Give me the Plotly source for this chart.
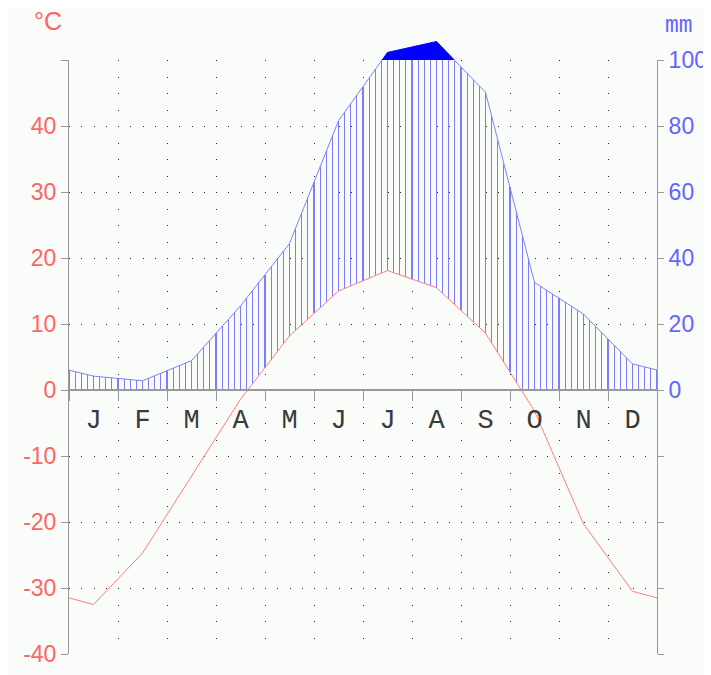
import numpy as np
import plotly.graph_objects as go

# ---- data (Walter-Lieth climate diagram) ----
months = ["J", "F", "M", "A", "M", "J", "J", "A", "S", "O", "N", "D"]
temp_c = [-32.5, -24.7, -13.0, -1.4, 8.2, 15.0, 18.1, 15.5, 8.6, -3.2, -20.3, -30.5]
precip_mm = [4.2, 2.8, 8.9, 25.5, 44.4, 81.6, 123.0, 156.0, 90.2, 32.6, 23.0, 7.9]
temp_ticks = list(range(-40, 51, 10))
temp_ticktext = [str(v) if v < 50 else "" for v in temp_ticks]
precip_ticks = list(range(-80, 101, 20))
precip_ticktext = [str(v) if v >= 0 else "" for v in precip_ticks]

# ---- styling / layout constants ----
RED = "#ff6464"
BLUE = "#6464ff"
AXIS = "#999999"
DOT = "#222222"
BG = "#fafcfa"
LABEL_Y = -4.8          # vertical position of month letters (deg C units)
OFF = 8                 # page body margin of the browser
W, H = 711 - OFF, 675 - OFF
PLOT_L, PLOT_R, PLOT_T, PLOT_B = 69, 657, 60, 654   # target pixels in the window
ML = PLOT_L - OFF
MR = W - (PLOT_R - OFF)
MB = H - (PLOT_B - OFF)
MT = 12
T_MIN, T_MAX = -40, 50


def to_display(mm):
    """Walter-Lieth scale: 20 mm = 10 C up to 100 mm, above that 200 mm = 10 C."""
    return mm / 2.0 if mm <= 100 else 50.0 + (mm - 100.0) / 20.0


n = len(months)
x_c = np.arange(n) + 0.5
xs = np.concatenate([[0.0], x_c, [float(n)]])
t_edge = (temp_c[0] + temp_c[-1]) / 2.0
p_disp = [to_display(v) for v in precip_mm]
p_edge = (p_disp[0] + p_disp[-1]) / 2.0
t_line = np.array([t_edge] + temp_c + [t_edge])
p_line = np.array([p_edge] + p_disp + [p_edge])

# hatch: 8 vertical strokes per month between max(T,0) and min(P,50)
hx = np.arange(0, n * 8 + 1) / 8.0
hb = np.maximum(np.interp(hx, xs, t_line), 0.0)
ht = np.minimum(np.interp(hx, xs, p_line), 50.0)
keep = ht > hb
hatch_x = hx[keep]
hatch_base = hb[keep]
hatch_len = (ht - hb)[keep]

# dark region above 100 mm (clip the precipitation polyline at 50)
poly_x, poly_y = [], []
for i in range(len(xs) - 1):
    x0, y0, x1, y1 = xs[i], p_line[i], xs[i + 1], p_line[i + 1]
    if y0 >= 50:
        poly_x.append(x0)
        poly_y.append(y0)
    if (y0 - 50) * (y1 - 50) < 0:
        xc = x0 + (50 - y0) * (x1 - x0) / (y1 - y0)
        poly_x.append(xc)
        poly_y.append(50.0)
if p_line[-1] >= 50:
    poly_x.append(xs[-1])
    poly_y.append(p_line[-1])

# geometry: main axes occupy [0, d] of the paper height, the extra strip
# above them (used only by the >100 mm area) belongs to an invisible axis.
paper_w = W - ML - MR
paper_h = H - MT - MB
d = (PLOT_B - PLOT_T) / paper_h
y3_top = T_MIN + (T_MAX - T_MIN) / d
zero_pos = d * (0 - T_MIN) / (T_MAX - T_MIN)


def px_to_paper(px, py):
    return (px - PLOT_L) / paper_w, (PLOT_B - py) / paper_h


fig = go.Figure()
# thin (1 px, pixel-snapped) bars make the vertical hatching
fig.add_trace(go.Bar(x=hatch_x, y=hatch_len, base=hatch_base, width=0.002,
                     marker=dict(color="#7c7cff", line=dict(width=0)),
                     hoverinfo="skip", showlegend=False))
fig.add_trace(go.Scatter(x=xs, y=p_line, mode="lines",
                         line=dict(color="#8080ff", width=1), showlegend=False))
fig.add_trace(go.Scatter(x=xs, y=t_line, mode="lines",
                         line=dict(color="#ff8080", width=1), showlegend=False))
fig.add_trace(go.Scatter(x=x_c, y=[LABEL_Y] * n, mode="text", text=months,
                         textfont=dict(family="Liberation Mono", size=27, color="#3a3a3a"),
                         xaxis="x2", yaxis="y", hoverinfo="skip", showlegend=False))
fig.add_trace(go.Scatter(x=[None], y=[None], yaxis="y2", showlegend=False, hoverinfo="skip"))
if poly_x:
    fig.add_trace(go.Scatter(x=poly_x, y=poly_y, mode="lines", fill="toself",
                             fillcolor="#0000ff", line=dict(color="#0000ff", width=1),
                             xaxis="x3", yaxis="y3",
                             hoverinfo="skip", showlegend=False))

cx, cy = px_to_paper(47.5, 21)
mx, my = px_to_paper(679, 26)

fig.update_layout(
    width=W, height=H,
    margin=dict(l=ML, r=MR, t=MT, b=MB, pad=0),
    paper_bgcolor=BG, plot_bgcolor="rgba(0,0,0,0)",
    bargap=0, bargroupgap=0,
    xaxis=dict(range=[0, n], domain=[0, 1], tickvals=list(range(n + 1)),
               showticklabels=False, ticks="", showgrid=True, gridcolor=DOT,
               gridwidth=1, griddash="1px,15.5px", zeroline=False,
               showline=False, automargin=False),
    xaxis2=dict(overlaying="x", anchor="free", position=zero_pos, range=[0, n],
                tickvals=list(range(n + 1)), ticks="outside", ticklen=10, tickcolor=AXIS,
                tickwidth=1, showline=True, linecolor=AXIS, linewidth=2,
                showticklabels=False, showgrid=False, zeroline=False, side="bottom",
                automargin=False),
    yaxis=dict(range=[T_MIN, T_MAX], domain=[0, d], tickvals=temp_ticks,
               ticktext=temp_ticktext, ticks="outside", ticklen=7, tickcolor=AXIS,
               showline=True, linecolor=AXIS, linewidth=1, showgrid=True,
               gridcolor=DOT, gridwidth=1, griddash="1px,11.25px", zeroline=False,
               automargin=False,
               tickfont=dict(family="Liberation Sans", size=23, color=RED)),
    yaxis2=dict(overlaying="y", side="right", anchor="x", range=[2 * T_MIN, 2 * T_MAX],
                tickvals=precip_ticks, ticktext=precip_ticktext, ticks="outside",
                ticklen=6, tickcolor=AXIS, showline=True, linecolor=AXIS,
                linewidth=1, showgrid=False, zeroline=False, automargin=False,
                tickfont=dict(family="Liberation Sans", size=23, color=BLUE)),
    xaxis3=dict(range=[0, n], domain=[0, 1], anchor="y3", visible=False,
                showgrid=False, zeroline=False),
    yaxis3=dict(range=[T_MIN, y3_top], domain=[0, 1], anchor="x3", visible=False,
                showgrid=False, zeroline=False),
    annotations=[
        dict(text="°C", xref="paper", yref="paper", x=cx, y=cy,
             xanchor="center", yanchor="middle", showarrow=False,
             font=dict(family="Liberation Sans", size=25, color=RED)),
        dict(text="mm", xref="paper", yref="paper", x=mx, y=my,
             xanchor="center", yanchor="middle", showarrow=False,
             font=dict(family="Liberation Mono", size=23, color=BLUE)),
    ],
)

fig.write_html("out.html")
